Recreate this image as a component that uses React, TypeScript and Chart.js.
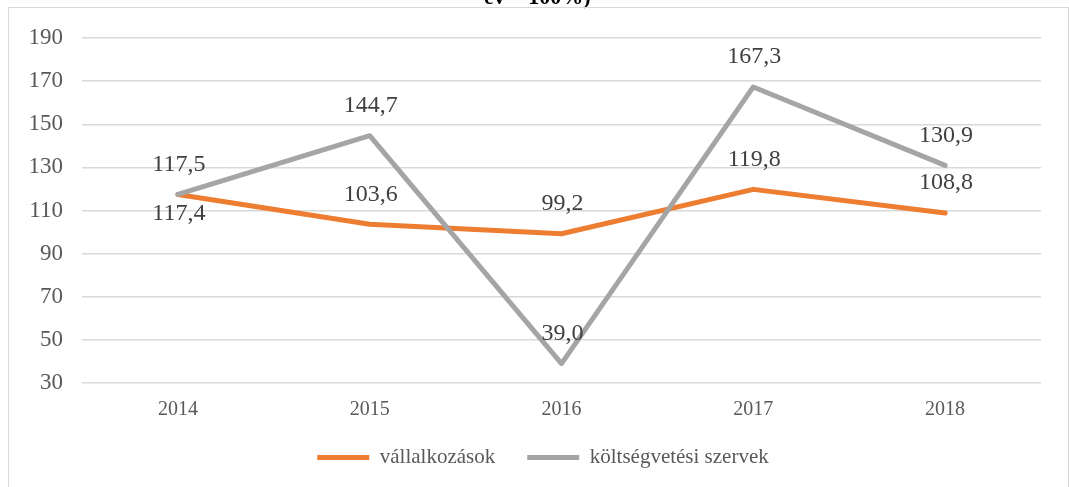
import React, { useEffect, useRef } from "react";
import { Chart, registerables } from "chart.js";

Chart.register(...registerables);

const years = ["2014", "2015", "2016", "2017", "2018"];
const vallalkozasok = [117.4, 103.6, 99.2, 119.8, 108.8];
const koltsegvetesi = [117.5, 144.7, 39.0, 167.3, 130.9];
const vallalkozasokLabelPos = ["below", "above", "above", "above", "above"];
const koltsegvetesiLabelPos = ["above", "above", "above", "above", "above"];
const seriesNames = ["vállalkozások", "költségvetési szervek"];
const yMin = 30;
const yMax = 190;
const yStep = 20;

const SERIF = "'Liberation Serif', 'Times New Roman', serif";

const dataLabelPlugin = {
  id: "dataLabels",
  afterDatasetsDraw(chart: any) {
    const ctx = chart.ctx;
    ctx.save();
    ctx.font = `24px ${SERIF}`;
    ctx.fillStyle = "#404040";
    ctx.textAlign = "center";
    ctx.textBaseline = "middle";
    chart.data.datasets.forEach((ds: any, di: number) => {
      const meta = chart.getDatasetMeta(di);
      const positions: string[] = ds.labelPositions || [];
      meta.data.forEach((pt: any, i: number) => {
        const v = ds.data[i] as number;
        const txt = v.toFixed(1).replace(".", ",");
        const off = positions[i] === "below" ? 19 : -30;
        ctx.fillText(txt, pt.x + 1, pt.y + off);
      });
    });
    ctx.restore();
  },
};

// shift the legend row so that it sits centred under the plot like the reference
const legendShiftPlugin = {
  id: "legendShift",
  afterLayout(chart: any) {
    const lg = chart.legend;
    if (lg) {
      lg.left += 22.5;
      lg.right += 22.5;
    }
  },
};

export default function App() {
  const canvasRef = useRef<HTMLCanvasElement | null>(null);

  useEffect(() => {
    if (!canvasRef.current) return;
    const chart = new Chart(canvasRef.current, {
      type: "line",
      data: {
        labels: years,
        datasets: [
          {
            label: seriesNames[0],
            data: vallalkozasok,
            borderColor: "#ED7D31",
            backgroundColor: "#ED7D31",
            borderWidth: 5,
            pointRadius: 0,
            pointHoverRadius: 0,
            borderCapStyle: "round",
            borderJoinStyle: "round",
            tension: 0,
            order: 1,
            labelPositions: vallalkozasokLabelPos,
          } as any,
          {
            label: seriesNames[1],
            data: koltsegvetesi,
            borderColor: "#A5A5A5",
            backgroundColor: "#A5A5A5",
            borderWidth: 5,
            pointRadius: 0,
            pointHoverRadius: 0,
            borderCapStyle: "round",
            borderJoinStyle: "round",
            tension: 0,
            order: 0,
            labelPositions: koltsegvetesiLabelPos,
          } as any,
        ],
      },
      options: {
        animation: false,
        responsive: true,
        maintainAspectRatio: false,
        layout: {
          padding: { top: 38, left: 0, right: 28, bottom: 12 },
        },
        plugins: {
          title: { display: false },
          tooltip: { enabled: false },
          legend: {
            position: "bottom",
            maxHeight: 60,
            labels: {
              usePointStyle: true,
              pointStyle: "line",
              pointStyleWidth: 52,
              padding: 32,
              color: "#595959",
              font: { family: SERIF, size: 21 },
              sort: (a: any, b: any) => a.datasetIndex - b.datasetIndex,
            },
          },
        },
        scales: {
          x: {
            offset: true,
            grid: { display: false, drawTicks: false },
            border: { display: false },
            ticks: {
              color: "#595959",
              font: { family: SERIF, size: 20 },
              padding: 14.5,
              maxRotation: 0,
            },
            afterFit: (scale: any) => {
              scale.height = 32;
            },
          },
          y: {
            min: yMin,
            max: yMax,
            grid: { color: "#d9d9d9", lineWidth: 1.5, drawTicks: false },
            border: { display: false },
            ticks: {
              stepSize: yStep,
              color: "#595959",
              font: { family: SERIF, size: 23 },
              padding: 19,
            },
            afterFit: (scale: any) => {
              scale.width = 82;
            },
          },
        },
      },
      plugins: [dataLabelPlugin, legendShiftPlugin],
    });
    return () => chart.destroy();
  }, []);

  return (
    <div>
      <div
        style={{
          position: "fixed",
          left: 484,
          top: -14.5,
          fontFamily: SERIF,
          fontWeight: "bold",
          fontSize: 22,
          lineHeight: "22px",
          color: "#000",
          whiteSpace: "nowrap",
        }}
      >
        év = 100%)
      </div>
      <div
        style={{
          position: "fixed",
          left: 8,
          top: 7,
          width: 1061,
          height: 500,
          border: "1px solid #d9d9d9",
          boxSizing: "border-box",
        }}
      />
      <div
        style={{
          position: "fixed",
          left: 0,
          top: 0,
          width: 1069,
          height: 487,
        }}
      >
        <canvas ref={canvasRef} />
      </div>
    </div>
  );
}
